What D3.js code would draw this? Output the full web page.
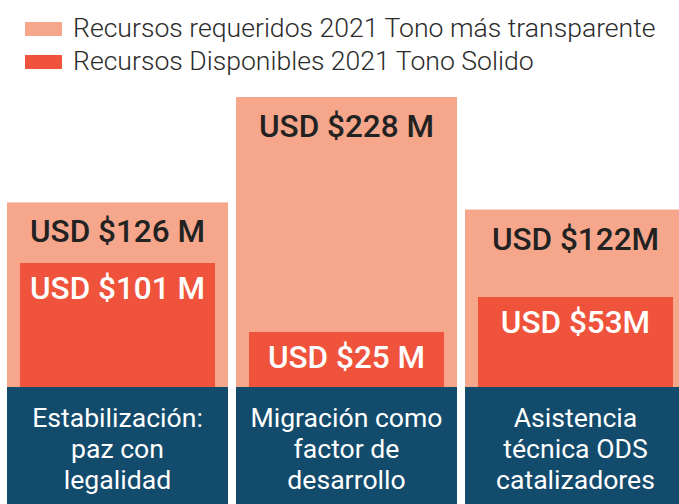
<!DOCTYPE html>
<html>
<head>
<meta charset="utf-8">
<script src="https://cdn.jsdelivr.net/npm/d3@7"></script>
<style>
  html, body { margin: 0; padding: 0; background: #fff; }
  svg { display: block; }
</style>
</head>
<body>
<svg id="chart" width="679" height="504"></svg>
<script>
// ---- data ----
const categories = ["Estabilización: paz con legalidad", "Migración como factor de desarrollo", "Asistencia técnica ODS catalizadores"];
const categoryLines = [["Estabilización:", "paz con", "legalidad"], ["Migración como", "factor de", "desarrollo"], ["Asistencia", "técnica ODS", "catalizadores"]];
const requeridos = [126, 228, 122];
const disponibles = [101, 25, 53];
const requeridosLabels = ["USD $126 M", "USD $228 M", "USD $122M"];
const disponiblesLabels = ["USD $101 M", "USD $25 M", "USD $53M"];
const seriesNames = ["Recursos requeridos 2021 Tono más transparente", "Recursos Disponibles 2021 Tono Solido"];

// ---- styles ----
const colLight = "#F6A68B";
const colSolid = "#F0533B";
const colBlue = "#134B6C";
const font = "Roboto, 'Noto Sans', sans-serif";

const svg = d3.select("#chart");
const W = 679, H = 504;
const baseY = 387;

// x band scale
const x = d3.scaleBand().domain(categories).range([7, 686]).paddingInner(0.035).paddingOuter(0);
const inset = 13;

// infographic (non-proportional) display scale: value -> bar height in px
const h = d3.scaleLinear().domain([0, 25, 53, 101, 124, 228]).range([0, 55, 90, 124, 182.5, 290]);

// legend
const legend = svg.append("g");
seriesNames.forEach((name, i) => {
  const g = legend.append("g").attr("transform", `translate(0, ${i * 33})`);
  g.append("rect").attr("x", 25).attr("y", 22).attr("width", 37).attr("height", 14)
    .attr("fill", i === 0 ? colLight : colSolid);
  g.append("text").attr("x", 73).attr("y", 37)
    .attr("font-family", font).attr("font-weight", 300).attr("font-size", 26.6)
    .attr("fill", "#2b2b2b").text(name);
});

// light bars (requeridos)
svg.append("g").selectAll("rect").data(categories).join("rect")
  .attr("x", d => x(d))
  .attr("width", x.bandwidth())
  .attr("y", (d, i) => baseY - h(requeridos[i]))
  .attr("height", (d, i) => h(requeridos[i]))
  .attr("fill", colLight);

// solid bars (disponibles)
svg.append("g").selectAll("rect").data(categories).join("rect")
  .attr("x", d => x(d) + inset)
  .attr("width", x.bandwidth() - 2 * inset)
  .attr("y", (d, i) => baseY - h(disponibles[i]))
  .attr("height", (d, i) => h(disponibles[i]))
  .attr("fill", colSolid);

// labels
svg.append("g").selectAll("text").data(categories).join("text")
  .attr("x", d => x(d) + x.bandwidth() / 2)
  .attr("y", (d, i) => baseY - h(requeridos[i]) + 40)
  .attr("text-anchor", "middle")
  .attr("font-family", font).attr("font-weight", 500).attr("font-size", 31.5)
  .attr("fill", "#222").text((d, i) => requeridosLabels[i]);

svg.append("g").selectAll("text").data(categories).join("text")
  .attr("x", d => x(d) + x.bandwidth() / 2)
  .attr("y", (d, i) => baseY - h(disponibles[i]) + 36)
  .attr("text-anchor", "middle")
  .attr("font-family", font).attr("font-weight", 500).attr("font-size", 31.5)
  .attr("fill", "#fff").text((d, i) => disponiblesLabels[i]);

// category boxes
const cat = svg.append("g").selectAll("g").data(categories).join("g");
cat.append("rect")
  .attr("x", d => x(d)).attr("width", x.bandwidth())
  .attr("y", baseY).attr("height", H - baseY)
  .attr("fill", colBlue);
cat.each(function(d, i) {
  const t = d3.select(this).append("text")
    .attr("text-anchor", "middle")
    .attr("font-family", font).attr("font-weight", 400).attr("font-size", 26.6)
    .attr("fill", "#fff");
  categoryLines[i].forEach((line, j) => {
    t.append("tspan").attr("x", x(d) + x.bandwidth() / 2).attr("y", 427 + j * 31).text(line);
  });
});
</script>
</body>
</html>
